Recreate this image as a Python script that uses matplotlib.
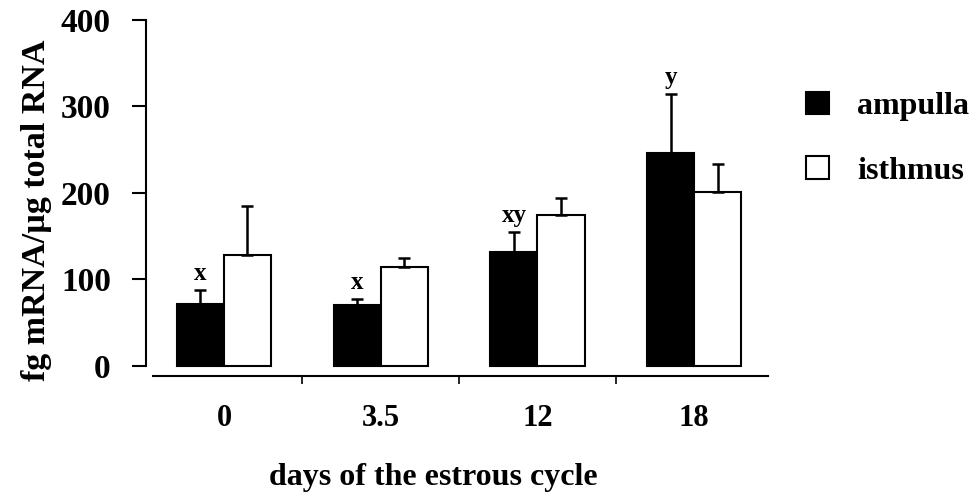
import numpy as np
import matplotlib
matplotlib.use('Agg')
import matplotlib.pyplot as plt
from matplotlib.patches import Patch

plt.rcParams['font.family'] = ['Liberation Serif', 'DejaVu Serif']
plt.rcParams['font.weight'] = 'bold'

days = ['0', '3.5', '12', '18']
ampulla = [72, 71, 132, 246]
ampulla_err = [16, 6, 23, 68]
isthmus = [128, 114, 174, 201]
isthmus_err = [57, 11, 20, 33]
letters = ['x', 'x', 'xy', 'y']

fig = plt.figure(figsize=(9.77, 4.95), dpi=100)
ax = fig.add_axes([0.149, 0.2404, 0.637, 0.7192])

x = np.arange(len(days))
w = 0.3
err_kw = dict(capsize=4, elinewidth=1.8, capthick=1.8, ecolor='black')
ax.bar(x - w / 2, ampulla, w, color='black', edgecolor='black', linewidth=1.5,
       yerr=[np.zeros(4), ampulla_err], error_kw=err_kw, zorder=2)
ax.bar(x + w / 2, isthmus, w, color='white', edgecolor='black', linewidth=1.5,
       yerr=[np.zeros(4), isthmus_err], error_kw=err_kw, zorder=2)

# significance letters above ampulla bars
for xi, v, e, t in zip(x, ampulla, ampulla_err, letters):
    ax.text(xi - w / 2, v + e + 6, t, ha='center', va='bottom', fontsize=18, fontweight='bold')

ax.set_xlim(-0.5, 3.47)
ax.set_ylim(-11.6, 400)
ax.spines['top'].set_visible(False)
ax.spines['right'].set_visible(False)
ax.spines['left'].set_bounds(0, 400)
ax.spines['bottom'].set_bounds(-0.45, 3.47)
for s in ['left', 'bottom']:
    ax.spines[s].set_linewidth(1.5)

ax.set_yticks([0, 100, 200, 300, 400])
ax.tick_params(axis='y', direction='out', length=10, width=1.5, labelsize=24, pad=15)
ax.set_xticks([0.5, 1.5, 2.5])
ax.set_xticklabels([])
ax.tick_params(axis='x', which='major', direction='out', length=6, width=1.2)
ax.set_xticks(x, minor=True)
ax.set_xticklabels(days, minor=True)
ax.tick_params(axis='x', which='minor', length=0, labelsize=22, pad=20)
for lab in ax.get_yticklabels() + ax.get_xticklabels(minor=True):
    lab.set_fontweight('bold')

ax.set_ylabel('fg mRNA/µg total RNA', fontsize=24.5, fontweight='bold')
ax.yaxis.set_label_coords(-0.151, 0.466)
ax.set_xlabel('days of the estrous cycle', fontsize=23, fontweight='bold')
ax.xaxis.set_label_coords(0.463, -0.245)

handles = [Patch(facecolor='black', edgecolor='black', linewidth=1.5),
           Patch(facecolor='white', edgecolor='black', linewidth=1.5)]
fig.legend(handles, ['ampulla', 'isthmus'], loc='upper left', bbox_to_anchor=(0.796, 0.873),
           frameon=False, handlelength=0.72, handleheight=0.72,
           handletextpad=0.87, labelspacing=1.1, prop={'weight': 'bold', 'size': 23})

fig.savefig('out.png', dpi=100)
